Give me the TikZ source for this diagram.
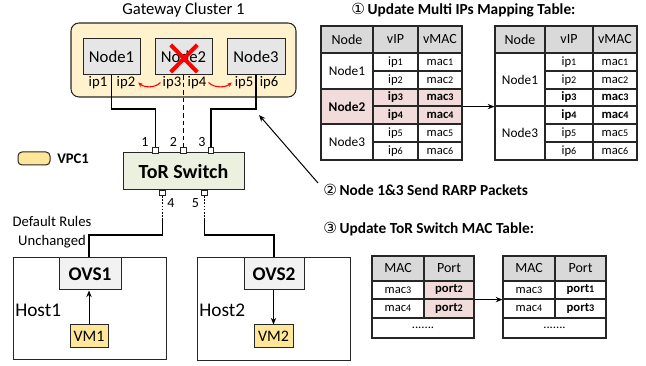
\documentclass[tikz,border=0pt]{standalone}
\usepackage{fontspec}
\setmainfont{Carlito}
\newfontfamily\circfont{DejaVu Sans}
\usetikzlibrary{arrows.meta}
\definecolor{clusterfill}{HTML}{FFF2CC}
\definecolor{vmfill}{HTML}{FFE699}
\definecolor{nodefill}{HTML}{E7E6E6}
\definecolor{ovsfill}{HTML}{F2F2F2}
\definecolor{torfill}{HTML}{EBF1DE}
\definecolor{headfill}{HTML}{D9D9D9}
\definecolor{pinkfill}{HTML}{F2DCDB}
\definecolor{linec}{HTML}{262626}
\definecolor{redx}{HTML}{FF0000}
\newcommand\od[1]{{\fontsize{7.6}{9}\selectfont #1}}
\newcommand\boxat[7]{%
  \pgfmathsetmacro\rsW{(#4-#2)*0.75}%
  \pgfmathsetmacro\rsH{(#5-#3)*0.75}%
  \node[#6,minimum width=\rsW pt,minimum height=\rsH pt,inner sep=0pt] (#1) at ({(#2+#4)/2},{(#3+#5)/2}) {#7};}
\tikzset{
  fA/.style={font=\fontsize{12.5}{15}\selectfont},
  fB/.style={font=\fontsize{11}{14}\selectfont},
  fport/.style={font=\fontsize{10.5}{12}\selectfont},
  fbig/.style={font=\bfseries\fontsize{14.5}{17}\selectfont},
  fhost/.style={font=\fontsize{14.5}{17}\selectfont},
  fhead/.style={font=\bfseries\fontsize{11.5}{14}\selectfont},
  thead/.style={font=\fontsize{10.5}{12}\selectfont},
  tnode/.style={font=\fontsize{10}{12}\selectfont},
  tbody/.style={font=\fontsize{9.5}{11}\selectfont},
  cell/.style={draw=linec,line width=0.9pt},
  gbox/.style={draw=linec,line width=0.75pt},
  cluster/.style={draw=linec,line width=0.8pt,fill=clusterfill,rounded corners=6pt},
  conn/.style={draw=black,line width=0.8pt},
  arr/.style={draw=black,line width=0.75pt,-{Stealth[length=5pt,width=4pt]}},
  portsq/.style={draw=linec,fill=white,line width=0.6pt,minimum size=4pt,inner sep=0pt},
  redarr/.style={draw=redx,line width=0.8pt,-{Stealth[length=3.5pt,width=3pt]}},
}
\begin{document}
\begin{tikzpicture}[x=0.75pt,y=-0.75pt]
\useasboundingbox (0,0) rectangle (646,366);

% ---------- gateway cluster ----------
\boxat{cluster}{71}{23}{296}{97}{cluster}{}
\node[fA] (title) at (183.5,10) {Gateway Cluster 1};
\boxat{n1}{83}{39}{140}{74.5}{gbox,fill=nodefill,fA}{Node1}
\boxat{n2}{155}{39}{212}{74.5}{gbox,fill=nodefill,fA}{Node2}
\boxat{n3}{227}{39}{285}{74.5}{gbox,fill=nodefill,fA}{Node3}
\node[minimum width=19.5pt,minimum height=20pt,inner sep=0pt] (xmark) at (184,58.5) {};
\draw[redx,line width=3pt] (xmark.north west) -- (xmark.south east)
  (xmark.north east) -- (xmark.south west);
\node[fB,inner sep=1pt] (ip1) at (98,82.5) {ip1};
\node[fB,inner sep=1pt] (ip2) at (126,82.5) {ip2};
\node[fB,inner sep=1pt] (ip3) at (172,82.5) {ip3};
\node[fB,inner sep=1pt] (ip4) at (197,82.5) {ip4};
\node[fB,inner sep=1pt] (ip5) at (244,82.5) {ip5};
\node[fB,inner sep=1pt] (ip6) at (269,82.5) {ip6};
\draw[redarr] ([xshift=-0.5pt]ip3.west) .. controls +(-6,6) and +(6,5) .. ([xshift=1pt]ip2.east);
\draw[redarr] ([xshift=0.5pt]ip4.east) .. controls +(6,6) and +(-6,5) .. ([xshift=-1pt]ip5.west);

% ---------- ToR switch ----------
\boxat{tor}{123}{153}{244}{190}{gbox,fill=torfill,font=\bfseries\fontsize{15}{18}\selectfont}{ToR Switch}
\node[portsq] (p1) at (155.3,150.5) {};
\node[portsq] (p2) at (183.5,150.5) {};
\node[portsq] (p3) at (211,150.5) {};
\node[portsq] (p4) at (162.3,193) {};
\node[portsq] (p5) at (204.3,193) {};
\node[fport] (l1) at (145,142) {1};
\node[fport] (l2) at (173.5,142) {2};
\node[fport] (l3) at (202,142) {3};
\node[fport] (l4) at (171,203) {4};
\node[fport] (l5) at (195.5,203) {5};

\coordinate (lvlA) at (0,109);
\coordinate (lvlB) at (0,235);
\draw[conn] (n1.south) -- (n1.south |- lvlA) -| (p1.north);
\draw[conn,dash pattern=on 3.5pt off 2.2pt] (n2.south) -- (p2.north);
\draw[conn] (n3.south) -- (n3.south |- lvlA) -| (p3.north);

% ---------- hosts ----------
\boxat{host1}{13}{258}{166}{360}{gbox}{}
\boxat{host2}{197}{258}{350}{361}{gbox}{}
\boxat{ovs1}{59}{258}{121}{290}{gbox,fill=ovsfill,fbig}{OVS1}
\boxat{ovs2}{244}{258}{304}{290}{gbox,fill=ovsfill,fbig}{OVS2}
\node[fhost,anchor=west,inner sep=0pt] (h1lab) at (15,310) {Host1};
\node[fhost,anchor=west,inner sep=0pt] (h2lab) at (199,310) {Host2};
\boxat{vm1}{70}{325}{108}{348}{gbox,fill=vmfill,font=\fontsize{12}{14}\selectfont}{VM1}
\boxat{vm2}{254}{325}{293}{348}{gbox,fill=vmfill,font=\fontsize{12}{14}\selectfont}{VM2}
\draw[arr] (vm1.north) -- (vm1.north |- ovs1.south);
\draw[arr] (vm2.north |- ovs2.south) -- (vm2.north);

\coordinate (d4) at (162.3,218);
\coordinate (d5) at (204.3,218);
\draw[conn,dash pattern=on 1.2pt off 1.2pt] (p4.south) -- (d4);
\draw[conn,dash pattern=on 1.2pt off 1.2pt] (p5.south) -- (d5);
\draw[conn] (d4) -- (d4 |- lvlB) -| (vm1.north |- ovs1.north);
\draw[conn] (d5) -- (d5 |- lvlB) -| (ovs2.north);

\node[fB,align=center,inner sep=0pt] (rules) at (52,232.5) {Default Rules\\Unchanged};

% ---------- legend ----------
\boxat{legend}{18}{152}{50}{165}{gbox,fill=vmfill,rounded corners=3pt}{}
\node[anchor=west,inner sep=0pt,font=\bfseries\fontsize{11}{13}\selectfont] (legtxt) at (57,158.5) {VPC1};

% ---------- headings ----------
\node[fhead,anchor=west,inner sep=0pt] (hd1) at (351,10) {{\circfont\mdseries ①}\,Update Multi IPs Mapping Table:};
\node[fhead,anchor=west,inner sep=0pt] (hd2) at (323,190) {{\circfont\mdseries ②}\,Node 1\&3 Send RARP Packets};
\node[fhead,anchor=west,inner sep=0pt] (hd3) at (323,229) {{\circfont\mdseries ③}\,Update ToR Switch MAC Table:};
\coordinate (a2s) at (318,183);
\coordinate (a2e) at (259,115);
\draw[arr] (a2s) -- (a2e);

% ---------- mapping table (before) ----------
\boxat{LhN}{321}{26}{373}{53}{cell,fill=headfill,thead}{Node}
\boxat{LhI}{373}{26}{418}{53}{cell,fill=headfill,thead}{vIP}
\boxat{LhM}{418}{26}{462}{53}{cell,fill=headfill,thead}{vMAC}
\boxat{Ln1}{321}{53}{373}{89}{cell,tnode}{Node1}
\boxat{Li1}{373}{53}{418}{71}{cell,tbody}{ip\od{1}}
\boxat{Lm1}{418}{53}{462}{71}{cell,tbody}{mac\od{1}}
\boxat{Li2}{373}{71}{418}{89}{cell,tbody}{ip\od{2}}
\boxat{Lm2}{418}{71}{462}{89}{cell,tbody}{mac\od{2}}
\boxat{Ln2}{321}{89}{373}{124}{cell,fill=pinkfill,tnode}{\bfseries Node2}
\boxat{Li3}{373}{89}{418}{106}{cell,fill=pinkfill,tbody}{\bfseries ip\od{3}}
\boxat{Lm3}{418}{89}{462}{106}{cell,fill=pinkfill,tbody}{\bfseries mac\od{3}}
\boxat{Li4}{373}{106}{418}{124}{cell,fill=pinkfill,tbody}{\bfseries ip\od{4}}
\boxat{Lm4}{418}{106}{462}{124}{cell,fill=pinkfill,tbody}{\bfseries mac\od{4}}
\boxat{Ln3}{321}{124}{373}{160}{cell,tnode}{Node3}
\boxat{Li5}{373}{124}{418}{142}{cell,tbody}{ip\od{5}}
\boxat{Lm5}{418}{124}{462}{142}{cell,tbody}{mac\od{5}}
\boxat{Li6}{373}{142}{418}{160}{cell,tbody}{ip\od{6}}
\boxat{Lm6}{418}{142}{462}{160}{cell,tbody}{mac\od{6}}

% ---------- mapping table (after) ----------
\boxat{RhN}{495}{26}{545}{53}{cell,fill=headfill,thead}{Node}
\boxat{RhI}{545}{26}{593}{53}{cell,fill=headfill,thead}{vIP}
\boxat{RhM}{593}{26}{637}{53}{cell,fill=headfill,thead}{vMAC}
\boxat{Rn1}{495}{53}{545}{106}{cell,tnode}{Node1}
\boxat{Ri1}{545}{53}{593}{71}{cell,tbody}{ip\od{1}}
\boxat{Rm1}{593}{53}{637}{71}{cell,tbody}{mac\od{1}}
\boxat{Ri2}{545}{71}{593}{89}{cell,tbody}{ip\od{2}}
\boxat{Rm2}{593}{71}{637}{89}{cell,tbody}{mac\od{2}}
\boxat{Ri3}{545}{89}{593}{106}{cell,tbody}{\bfseries ip\od{3}}
\boxat{Rm3}{593}{89}{637}{106}{cell,tbody}{\bfseries mac\od{3}}
\boxat{Rn3}{495}{106}{545}{160}{cell,tnode}{Node3}
\boxat{Ri4}{545}{106}{593}{124}{cell,tbody}{\bfseries ip\od{4}}
\boxat{Rm4}{593}{106}{637}{124}{cell,tbody}{\bfseries mac\od{4}}
\boxat{Ri5}{545}{124}{593}{142}{cell,tbody}{ip\od{5}}
\boxat{Rm5}{593}{124}{637}{142}{cell,tbody}{mac\od{5}}
\boxat{Ri6}{545}{142}{593}{160}{cell,tbody}{ip\od{6}}
\boxat{Rm6}{593}{142}{637}{160}{cell,tbody}{mac\od{6}}
\draw[arr] (Lm3.south east) -- (Rn1.south west);

% ---------- MAC tables ----------
\boxat{MhM}{372}{256}{424}{281}{cell,fill=headfill,thead}{MAC}
\boxat{MhP}{424}{256}{474}{281}{cell,fill=headfill,thead}{Port}
\boxat{Mm3}{372}{281}{424}{299}{cell,tbody}{mac\od{3}}
\boxat{Mp3}{424}{281}{474}{299}{cell,fill=pinkfill,tbody}{\bfseries port\od{2}}
\boxat{Mm4}{372}{299}{424}{318}{cell,tbody}{mac\od{4}}
\boxat{Mp4}{424}{299}{474}{318}{cell,fill=pinkfill,tbody}{\bfseries port\od{2}}
\boxat{Mdots}{372}{318}{474}{338}{cell,tbody}{.......}
\boxat{NhM}{503}{256}{555}{281}{cell,fill=headfill,thead}{MAC}
\boxat{NhP}{555}{256}{606}{281}{cell,fill=headfill,thead}{Port}
\boxat{Nm3}{503}{281}{555}{299}{cell,tbody}{mac\od{3}}
\boxat{Np3}{555}{281}{606}{299}{cell,tbody}{\bfseries port\od{1}}
\boxat{Nm4}{503}{299}{555}{318}{cell,tbody}{mac\od{4}}
\boxat{Np4}{555}{299}{606}{318}{cell,tbody}{\bfseries port\od{3}}
\boxat{Ndots}{503}{318}{606}{338}{cell,tbody}{.......}
\draw[arr] (Mp3.south east) -- (Nm3.south west);
\end{tikzpicture}
\end{document}
